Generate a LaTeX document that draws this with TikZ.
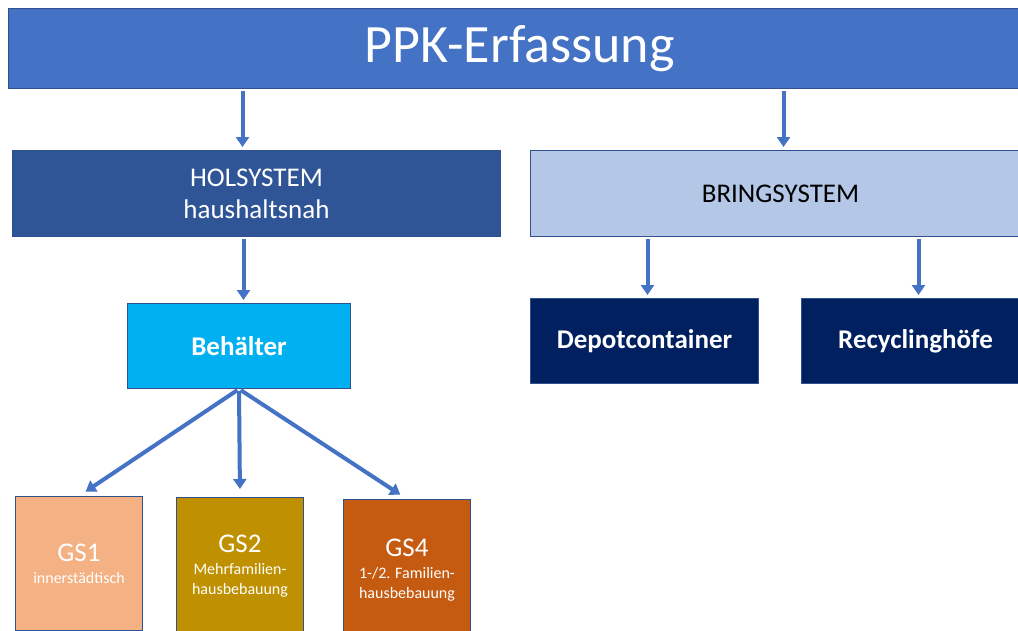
\documentclass[tikz,border=0pt]{standalone}
\usepackage{fontspec}
\setmainfont{Carlito}
\usetikzlibrary{calc, arrows.meta}

\begin{document}
\begin{tikzpicture}[x=1pt, y=-1pt,
    box/.style={draw=borderColour, line width=1pt, inner sep=0pt, anchor=north west, align=center, text=white},
    gsbox/.style={box, minimum width=127pt, font=\fontsize{16}{20}\selectfont},
    link/.style={draw=linkColour, line width=4pt, -{Triangle[length=10pt, width=13pt]}, shorten <=2pt, shorten >=3pt}]
    % Define colours
    \definecolor{borderColour}{HTML}{2F528F}
    \definecolor{linkColour}{HTML}{4472C4}
    \definecolor{titleColour}{HTML}{4472C4}
    \definecolor{holColour}{HTML}{2F5597}
    \definecolor{bringColour}{HTML}{B4C7E7}
    \definecolor{containerColour}{HTML}{00B0F0}
    \definecolor{depotColour}{HTML}{002060}
    \definecolor{gsOneColour}{HTML}{F4B183}
    \definecolor{gsTwoColour}{HTML}{BF9000}
    \definecolor{gsFourColour}{HTML}{C55A11}

    % Fix the page size
    \useasboundingbox (0,0) rectangle (1018,630);
    \clip (0,0) rectangle (1018,630);

    % Draw the title box
    \node[box, fill=titleColour, minimum width=1022pt, minimum height=80pt, font=\fontsize{54}{60}\selectfont] (title) at (8,8) {PPK-Erfassung};

    % Draw the two systems
    \node[box, fill=holColour, minimum width=488pt, minimum height=86pt, font=\fontsize{27}{32}\selectfont] (hol) at (12,150) {HOLSYSTEM\\haushaltsnah};
    \node[box, fill=bringColour, text=black, minimum width=500pt, minimum height=86pt, font=\fontsize{27}{32}\selectfont] (bring) at (530,150) {BRINGSYSTEM};

    % Draw the second level
    \node[box, fill=containerColour, minimum width=223pt, minimum height=85pt, font=\bfseries\fontsize{27}{32}\selectfont] (container) at (127,303) {Behälter};
    \node[box, fill=depotColour, minimum width=228pt, minimum height=85pt, font=\bfseries\fontsize{27}{32}\selectfont] (depot) at (530,298) {Depotcontainer};
    \node[box, fill=depotColour, minimum width=228pt, minimum height=85pt, font=\bfseries\fontsize{27}{32}\selectfont] (recycling) at (801,298) {Recyclinghöfe};

    % Draw the settlement structures
    \node[gsbox, fill=gsOneColour, minimum height=134pt] (gs1) at (15,496)
        {{\fontsize{27}{30}\selectfont GS1}\\[2pt]innerstädtisch};
    \node[gsbox, fill=gsTwoColour, minimum height=138pt] (gs2) at (176,497)
        {{\fontsize{27}{30}\selectfont GS2}\\[2pt]Mehrfamilien-\\hausbebauung};
    \node[gsbox, fill=gsFourColour, minimum height=142pt] (gs4) at (343,499)
        {{\fontsize{27}{30}\selectfont GS4}\\[2pt]1-/2. Familien-\\hausbebauung};

    % Draw the arrows
    \draw[link] ([xshift=-14pt]hol.north |- title.south) -- ([xshift=-14pt]hol.north);
    \draw[link] ([xshift=3pt]bring.north |- title.south) -- ([xshift=3pt]bring.north);
    \draw[link] ([xshift=-13pt]hol.south) -- ([xshift=-13pt]hol.south |- container.north);
    \draw[link] ([xshift=3pt]depot.north |- bring.south) -- ([xshift=3pt]depot.north);
    \draw[link] ([xshift=3pt]recycling.north |- bring.south) -- ([xshift=3pt]recycling.north);
    \foreach \gs in {gs1, gs2, gs4}
        \draw[link, shorten >=8pt] (container.south) -- (\gs.north);

\end{tikzpicture}
\end{document}
